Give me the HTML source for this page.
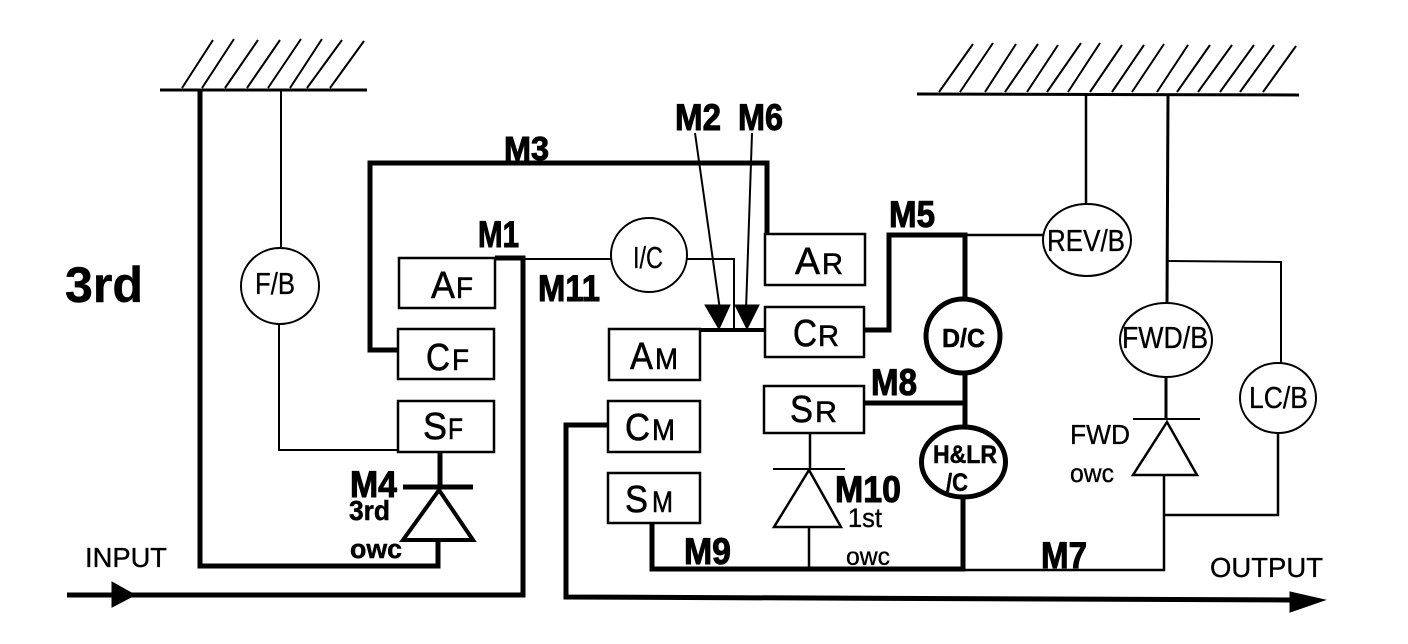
<!DOCTYPE html>
<html><head><meta charset="utf-8"><style>
html,body{margin:0;padding:0;background:#fff;width:1408px;height:644px;overflow:hidden}
svg{display:block}
text{font-family:"Liberation Sans",Arial,sans-serif;fill:#000;stroke:#000;stroke-width:.35px}
.b{font-weight:bold;stroke-width:.5px}
.m{font-weight:bold;font-size:37px;stroke:#000;stroke-width:1px}
.l{font-size:38px;stroke-width:.6px}.s{font-size:30px;stroke-width:.6px}
.c{font-size:31px}
path,line,rect,ellipse,polygon{stroke:#000;fill:none}
rect,ellipse{fill:#fff}
</style></head><body>
<svg width="1408" height="644" viewBox="0 0 1408 644" xmlns="http://www.w3.org/2000/svg">
<!-- ground left -->
<line x1="160" y1="90" x2="367" y2="90" stroke-width="3"/>
<path stroke-width="2" d="M182 88L213 40M202 88L234 39M225 88L258 40M247 88L280 40M268 88L301 39M290 88L322 39M307 88L342 40M330 88L364 41"/>
<!-- ground right -->
<line x1="917" y1="94" x2="1299" y2="95" stroke-width="3"/>
<path stroke-width="2" d="M939 92L973 44M960 92L993 43M985 92L1016 44M1005 92L1038 44M1027 92L1058 45M1047 92L1081 43M1068 92L1100 43M1090 92L1122 45M1112 92L1144 45M1132 92L1164 44M1157 92L1188 45M1177 92L1210 45M1198 92L1232 45M1220 92L1254 45M1240 92L1274 45M1263 92L1296 46"/>

<!-- thick paths -->
<path stroke-width="5" d="M200 90V566H438V540"/>
<path stroke-width="5" d="M398 350H370V163H767V234"/>
<path stroke-width="5" d="M67 595H523V258H495"/>
<path stroke-width="5" d="M608 425H566V597L1290 600"/>
<path stroke-width="5" d="M864 330H889V235H965V298"/>
<line x1="965" y1="373" x2="965" y2="427" stroke-width="5"/>
<line x1="864" y1="403" x2="965" y2="403" stroke-width="5"/>
<path stroke-width="5" d="M652 523V569H963V498"/>
<line x1="440" y1="452" x2="440" y2="487" stroke-width="5"/>
<line x1="700" y1="330" x2="765" y2="330" stroke-width="4"/>

<!-- thin paths -->
<line x1="281" y1="90" x2="281" y2="248" stroke-width="2"/>
<path stroke-width="2" d="M279 324V450H398"/>
<line x1="523" y1="259" x2="611" y2="259" stroke-width="2"/>
<path stroke-width="2" d="M687 259H734V329"/>
<line x1="965" y1="235" x2="1043" y2="235" stroke-width="2.5"/>
<line x1="1086" y1="95" x2="1086" y2="205" stroke-width="2.5"/>
<line x1="1168" y1="95" x2="1167" y2="303" stroke-width="3"/>
<path stroke-width="2" d="M1168 261L1281 262V363"/>
<path stroke-width="2.5" d="M963 570H1164V475"/>
<path stroke-width="2.5" d="M1164 515H1278V433"/>
<line x1="1166" y1="377" x2="1166" y2="419" stroke-width="3"/>
<line x1="810" y1="433" x2="810" y2="469" stroke-width="2.5"/>
<line x1="809" y1="527" x2="809" y2="569" stroke-width="2.5"/>

<!-- arrows -->
<line x1="695" y1="133" x2="720" y2="310" stroke-width="2"/>
<line x1="752" y1="133" x2="746" y2="310" stroke-width="2"/>
<polygon points="705,305 730,305 719,329" stroke-width="1" style="fill:#000"/>
<polygon points="735,305 759,305 747,329" stroke-width="1" style="fill:#000"/>
<polygon points="112,582 135,595 112,607" style="fill:#000" stroke-width="1"/>
<polygon points="1290,592 1325,600 1290,612" style="fill:#000" stroke-width="1"/>

<!-- one-way clutches -->
<line x1="403" y1="487" x2="473" y2="487" stroke-width="5"/>
<polygon points="439,490 403,540 473,540" stroke-width="4"/>
<line x1="773" y1="469" x2="845" y2="469" stroke-width="2"/>
<polygon points="809,470 774,527 841,527" stroke-width="2.5"/>
<line x1="1133" y1="419" x2="1200" y2="419" stroke-width="2"/>
<polygon points="1167,422 1133,475 1197,475" stroke-width="2.5"/>

<!-- boxes -->
<rect x="399" y="258" width="96" height="50" stroke-width="2.5"/>
<rect x="398" y="329" width="96" height="50" stroke-width="2.5"/>
<rect x="398" y="401" width="96" height="51" stroke-width="2.5"/>
<rect x="765" y="234" width="100" height="51" stroke-width="2.5"/>
<rect x="765" y="307" width="99" height="50" stroke-width="2.5"/>
<rect x="609" y="329" width="91" height="51" stroke-width="2.5"/>
<rect x="764" y="386" width="100" height="47" stroke-width="2.5"/>
<rect x="608" y="401" width="92" height="51" stroke-width="2.5"/>
<rect x="608" y="473" width="92" height="50" stroke-width="2.5"/>

<!-- circles -->
<ellipse cx="280" cy="286" rx="39" ry="38" stroke-width="2"/>
<ellipse cx="649" cy="255" rx="38" ry="37" stroke-width="2"/>
<ellipse cx="1087" cy="240" rx="44" ry="36" stroke-width="2"/>
<ellipse cx="1166" cy="340" rx="46" ry="37" stroke-width="2"/>
<ellipse cx="1278" cy="398" rx="38" ry="35" stroke-width="2"/>
<ellipse cx="963" cy="336" rx="37" ry="37" stroke-width="5"/>
<ellipse cx="963.500" cy="462" rx="42" ry="35" stroke-width="5"/>

<!-- box labels -->
<text class="l" x="431" y="298" textLength="24" lengthAdjust="spacingAndGlyphs">A</text><text class="s" x="456" y="298" textLength="17" lengthAdjust="spacingAndGlyphs">F</text>
<text class="l" x="426" y="370" textLength="24" lengthAdjust="spacingAndGlyphs">C</text><text class="s" x="452" y="370" textLength="17" lengthAdjust="spacingAndGlyphs">F</text>
<text class="l" x="423" y="439" textLength="24" lengthAdjust="spacingAndGlyphs">S</text><text class="s" x="448" y="439" textLength="15" lengthAdjust="spacingAndGlyphs">F</text>
<text class="l" x="795" y="274" textLength="25" lengthAdjust="spacingAndGlyphs">A</text><text class="s" x="822" y="274" textLength="21" lengthAdjust="spacingAndGlyphs">R</text>
<text class="l" x="793" y="346" textLength="24" lengthAdjust="spacingAndGlyphs">C</text><text class="s" x="818" y="346" textLength="21" lengthAdjust="spacingAndGlyphs">R</text>
<text class="l" x="630" y="369" textLength="23" lengthAdjust="spacingAndGlyphs">A</text><text class="s" x="655" y="369" textLength="23" lengthAdjust="spacingAndGlyphs">M</text>
<text class="l" x="625" y="440" textLength="25" lengthAdjust="spacingAndGlyphs">C</text><text class="s" x="652" y="440" textLength="23" lengthAdjust="spacingAndGlyphs">M</text>
<text class="l" x="625" y="512" textLength="23" lengthAdjust="spacingAndGlyphs">S</text><text class="s" x="652" y="512" textLength="21" lengthAdjust="spacingAndGlyphs">M</text>
<text class="l" x="790" y="422" textLength="23" lengthAdjust="spacingAndGlyphs">S</text><text class="s" x="815" y="422" textLength="22" lengthAdjust="spacingAndGlyphs">R</text>

<!-- circle labels -->
<text class="c" x="255" y="294" textLength="40" lengthAdjust="spacingAndGlyphs">F/B</text>
<text class="c" x="633" y="268" textLength="30" lengthAdjust="spacingAndGlyphs">I/C</text>
<text class="c" x="1047" y="251" textLength="78" lengthAdjust="spacingAndGlyphs">REV/B</text>
<text class="c" x="1122" y="348" textLength="86" lengthAdjust="spacingAndGlyphs">FWD/B</text>
<text class="c" x="1249" y="408" textLength="59" lengthAdjust="spacingAndGlyphs">LC/B</text>
<text class="b" x="942" y="347" font-size="26" textLength="43" lengthAdjust="spacingAndGlyphs">D/C</text>
<text class="b" x="933" y="463" font-size="25" textLength="64" lengthAdjust="spacingAndGlyphs">H&amp;LR</text>
<text class="b" x="946" y="491" font-size="25" textLength="22" lengthAdjust="spacingAndGlyphs">/C</text>

<!-- M labels -->
<text class="m" x="478" y="247" textLength="41" lengthAdjust="spacingAndGlyphs">M1</text>
<text class="m" x="504" y="160" textLength="45" lengthAdjust="spacingAndGlyphs" style="font-size:33px">M3</text>
<text class="m" x="675" y="130" textLength="46" lengthAdjust="spacingAndGlyphs">M2</text>
<text class="m" x="738" y="130" textLength="45" lengthAdjust="spacingAndGlyphs">M6</text>
<text class="m" x="538" y="301" textLength="62" lengthAdjust="spacingAndGlyphs">M11</text>
<text class="m" x="889" y="227" textLength="46" lengthAdjust="spacingAndGlyphs">M5</text>
<text class="m" x="871" y="395" textLength="46" lengthAdjust="spacingAndGlyphs">M8</text>
<text class="m" x="350" y="497" textLength="47" lengthAdjust="spacingAndGlyphs">M4</text>
<text class="m" x="835" y="502" textLength="66" lengthAdjust="spacingAndGlyphs">M10</text>
<text class="m" x="684" y="564" textLength="47" lengthAdjust="spacingAndGlyphs">M9</text>
<text class="m" x="1041" y="568" textLength="46" lengthAdjust="spacingAndGlyphs">M7</text>

<!-- other labels -->
<text class="b" x="65" y="302" font-size="50" textLength="78" lengthAdjust="spacingAndGlyphs">3rd</text>
<text class="b" x="349" y="520" font-size="28" textLength="41" lengthAdjust="spacingAndGlyphs">3rd</text>
<text class="b" x="350" y="558" font-size="27" textLength="52" lengthAdjust="spacingAndGlyphs">owc</text>
<text x="85" y="567" font-size="28" textLength="82" lengthAdjust="spacingAndGlyphs">INPUT</text>
<text x="1210" y="577" font-size="28" textLength="113" lengthAdjust="spacingAndGlyphs">OUTPUT</text>
<text x="848" y="527" font-size="27" textLength="34" lengthAdjust="spacingAndGlyphs">1st</text>
<text x="846" y="565" font-size="25" textLength="44" lengthAdjust="spacingAndGlyphs">owc</text>
<text x="1070" y="444" font-size="28" textLength="60" lengthAdjust="spacingAndGlyphs">FWD</text>
<text x="1070" y="482" font-size="26" textLength="44" lengthAdjust="spacingAndGlyphs">owc</text>
</svg>
</body></html>
